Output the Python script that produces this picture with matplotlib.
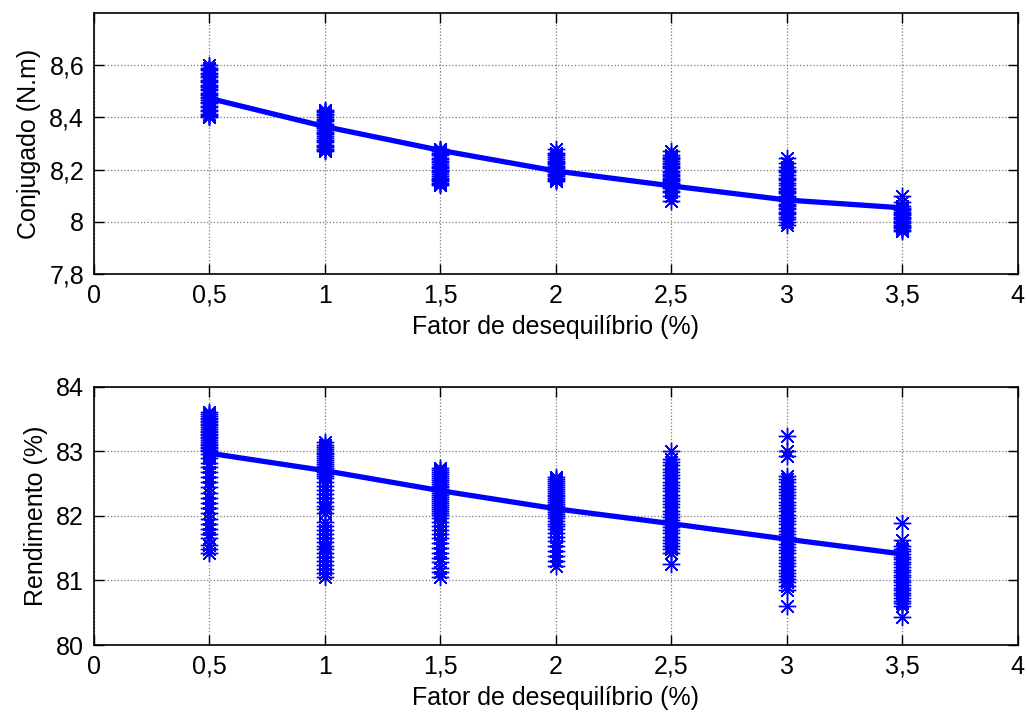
import matplotlib
matplotlib.use("Agg")
import matplotlib.pyplot as plt
from matplotlib.ticker import FuncFormatter

plt.rcParams['font.family'] = ['Liberation Sans', 'DejaVu Sans']

# Unbalance factor (%) at which each cluster was measured
fator = [0.5, 1.0, 1.5, 2.0, 2.5, 3.0, 3.5]

# Torque (N.m) samples
conj_05 = [8.60, 8.59, 8.585, 8.57, 8.56, 8.555, 8.54, 8.535, 8.52, 8.51, 8.505, 8.49,
           8.48, 8.475, 8.46, 8.455, 8.44, 8.43, 8.425, 8.41, 8.405, 8.40, 8.58, 8.545,
           8.515, 8.495, 8.465, 8.445, 8.415, 8.565, 8.525, 8.485]
conj_10 = [8.43, 8.425, 8.415, 8.41, 8.40, 8.39, 8.385, 8.375, 8.37, 8.36, 8.35, 8.345,
           8.335, 8.33, 8.32, 8.31, 8.305, 8.295, 8.29, 8.28, 8.275, 8.27, 8.42, 8.395,
           8.365, 8.34, 8.315, 8.285]
conj_15 = [8.28, 8.275, 8.27, 8.26, 8.255, 8.245, 8.24, 8.23, 8.22, 8.215, 8.205, 8.20,
           8.19, 8.185, 8.175, 8.17, 8.16, 8.155, 8.15, 8.145, 8.14, 8.265, 8.235,
           8.21, 8.195, 8.165]
conj_20 = [8.28, 8.265, 8.26, 8.255, 8.25, 8.24, 8.235, 8.23, 8.22, 8.215, 8.21, 8.20,
           8.195, 8.19, 8.185, 8.18, 8.175, 8.17, 8.165, 8.16, 8.155, 8.225, 8.205]
conj_25 = [8.27, 8.255, 8.25, 8.24, 8.235, 8.225, 8.22, 8.21, 8.205, 8.195, 8.19, 8.18,
           8.175, 8.17, 8.16, 8.155, 8.15, 8.14, 8.135, 8.13, 8.12, 8.115, 8.10, 8.08,
           8.245, 8.215, 8.185, 8.165, 8.145]
conj_30 = [8.245, 8.225, 8.21, 8.20, 8.19, 8.18, 8.17, 8.16, 8.15, 8.14, 8.13, 8.12,
           8.115, 8.11, 8.10, 8.09, 8.085, 8.08, 8.07, 8.06, 8.055, 8.05, 8.04, 8.03,
           8.02, 8.01, 8.00, 7.99, 8.195, 8.165, 8.125, 8.095, 8.065, 8.035]
conj_35 = [8.10, 8.075, 8.06, 8.055, 8.05, 8.045, 8.04, 8.035, 8.03, 8.025, 8.02, 8.015,
           8.01, 8.005, 8.00, 7.995, 7.99, 7.985, 7.98, 7.975, 7.97, 7.965]
conj_ajuste = [8.473, 8.365, 8.274, 8.195, 8.138, 8.084, 8.054]

# Efficiency (%) samples
rend_05 = [83.60, 83.57, 83.55, 83.52, 83.50, 83.47, 83.45, 83.42, 83.40, 83.37, 83.35,
           83.32, 83.30, 83.27, 83.25, 83.22, 83.20, 83.17, 83.15, 83.12, 83.10, 83.07,
           83.05, 83.02, 83.00, 82.95, 82.90, 82.82, 82.75, 82.68, 82.60, 82.52, 82.45,
           82.35, 82.28, 82.20, 82.12, 82.05, 81.95, 81.88, 81.80, 81.72, 81.65, 81.55,
           81.48, 81.42]
rend_10 = [83.14, 83.10, 83.07, 83.04, 83.01, 82.98, 82.95, 82.92, 82.89, 82.86, 82.83,
           82.80, 82.77, 82.74, 82.71, 82.68, 82.65, 82.62, 82.58, 82.52, 82.46, 82.40,
           82.34, 82.28, 82.22, 82.16, 82.10, 82.04, 81.90, 81.84, 81.78, 81.72, 81.66,
           81.60, 81.54, 81.48, 81.42, 81.36, 81.30, 81.24, 81.18, 81.12, 81.06]
rend_15 = [82.74, 82.71, 82.68, 82.65, 82.62, 82.59, 82.56, 82.53, 82.50, 82.47, 82.44,
           82.41, 82.38, 82.35, 82.32, 82.29, 82.26, 82.23, 82.20, 82.17, 82.14, 82.11,
           82.08, 82.05, 82.01, 81.97, 81.90, 81.84, 81.78, 81.72, 81.65, 81.58, 81.50,
           81.42, 81.35, 81.28, 81.20, 81.13, 81.06]
rend_20 = [82.60, 82.57, 82.54, 82.51, 82.48, 82.45, 82.42, 82.39, 82.36, 82.33, 82.30,
           82.27, 82.24, 82.21, 82.18, 82.15, 82.12, 82.09, 82.06, 82.03, 82.00, 81.96,
           81.92, 81.88, 81.84, 81.80, 81.74, 81.68, 81.61, 81.54, 81.46, 81.38, 81.30,
           81.23]
rend_25 = [83.00, 82.88, 82.83, 82.78, 82.73, 82.68, 82.63, 82.58, 82.53, 82.48, 82.43,
           82.38, 82.33, 82.28, 82.23, 82.18, 82.13, 82.08, 82.03, 81.98, 81.93, 81.88,
           81.83, 81.78, 81.73, 81.68, 81.63, 81.58, 81.53, 81.48, 81.43, 81.25]
rend_30 = [83.24, 83.00, 82.92, 82.62, 82.57, 82.52, 82.47, 82.42, 82.37, 82.32, 82.27,
           82.22, 82.17, 82.12, 82.07, 82.02, 81.97, 81.92, 81.87, 81.82, 81.77, 81.72,
           81.67, 81.62, 81.57, 81.52, 81.47, 81.42, 81.37, 81.32, 81.27, 81.22, 81.17,
           81.12, 81.07, 81.02, 80.97, 80.92, 80.86, 80.60]
rend_35 = [81.89, 81.63, 81.53, 81.49, 81.45, 81.41, 81.37, 81.33, 81.29, 81.25, 81.21,
           81.17, 81.13, 81.09, 81.05, 81.01, 80.97, 80.93, 80.89, 80.85, 80.81, 80.77,
           80.73, 80.69, 80.65, 80.61, 80.44]
rend_ajuste = [82.97, 82.70, 82.39, 82.11, 81.88, 81.64, 81.41]

conj_amostras = [conj_05, conj_10, conj_15, conj_20, conj_25, conj_30, conj_35]
rend_amostras = [rend_05, rend_10, rend_15, rend_20, rend_25, rend_30, rend_35]

xticks = [0, 0.5, 1, 1.5, 2, 2.5, 3, 3.5, 4]
conj_yticks = [7.8, 8.0, 8.2, 8.4, 8.6]
rend_yticks = [80, 81, 82, 83, 84]

azul = '#0000ff'
virgula = FuncFormatter(lambda v, _: f"{v:g}".replace('.', ','))
asterisco = (8, 2, 0)

fig = plt.figure(figsize=(10.27, 7.16), dpi=100)
ax1 = fig.add_axes([0.0915, 0.617, 0.8995, 0.365])
ax2 = fig.add_axes([0.0915, 0.099, 0.8995, 0.361])

paineis = [
    (ax1, conj_amostras, conj_ajuste, (7.8, 8.8), conj_yticks, 'Conjugado (N.m)'),
    (ax2, rend_amostras, rend_ajuste, (80, 84), rend_yticks, 'Rendimento (%)'),
]

for ax, amostras, ajuste, ylim, yticks, ylabel in paineis:
    for x, ys in zip(fator, amostras):
        ax.plot([x] * len(ys), ys, linestyle='none', marker=asterisco,
                markersize=12.5, markeredgewidth=1.0, color=azul)
    ax.plot(fator, ajuste, color=azul, linewidth=3.8, solid_capstyle='butt')

    ax.set_xlim(0, 4)
    ax.set_ylim(*ylim)
    ax.set_xticks(xticks)
    ax.set_yticks(yticks)
    ax.xaxis.set_major_formatter(virgula)
    ax.yaxis.set_major_formatter(virgula)
    ax.tick_params(direction='in', length=7, width=1, top=True, right=True,
                   labelsize=18, pad=7)
    ax.grid(True, linestyle=':', color='#7a7a7a', linewidth=0.9)
    ax.set_axisbelow(True)
    for s in ax.spines.values():
        s.set_linewidth(1.2)
    ax.set_xlabel('Fator de desequilíbrio (%)', fontsize=18, labelpad=5)
    ax.set_ylabel(ylabel, fontsize=18, labelpad=6)

fig.savefig('out.png', dpi=100)
